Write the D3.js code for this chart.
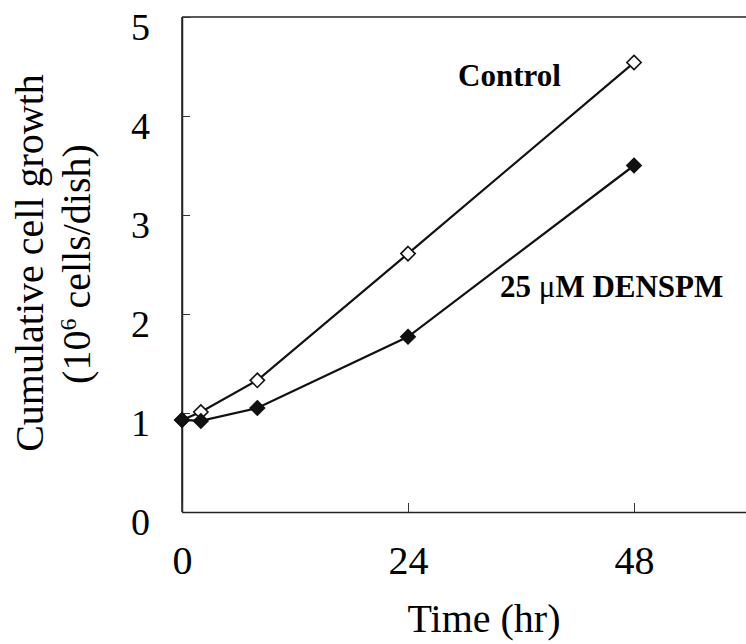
<!DOCTYPE html>
<html>
<head>
<meta charset="utf-8">
<script src="https://cdn.jsdelivr.net/npm/d3@7"></script>
<style>
  html, body { margin: 0; padding: 0; background: #fff; }
  svg { display: block; }
</style>
</head>
<body>
<svg id="chart" width="746" height="644"></svg>
<script>
// Cumulative cell growth over time, control vs. 25 µM DENSPM
const hours = [0, 2, 8, 24, 48];
const control = [0.93, 1.01, 1.33, 2.61, 4.54];
const densp = [0.93, 0.92, 1.05, 1.77, 3.50];
const xTicks = [0, 24, 48];
const yTicks = [0, 1, 2, 3, 4, 5];

const svg = d3.select("#chart");
const font = "'Liberation Serif', 'Times New Roman', serif";

const x = d3.scaleLinear().domain([0, 60]).range([182, 747]);
const y = d3.scaleLinear().domain([0, 5]).range([512, 17]);

// frame: left, top and bottom edges of the plot area
const frame = svg.append("g").attr("stroke", "#222").attr("stroke-width", 1.5).attr("fill", "none");
frame.append("line").attr("x1", x(0)).attr("x2", x(0)).attr("y1", y(5)).attr("y2", y(0));
frame.append("line").attr("x1", x(0)).attr("x2", x(60)).attr("y1", y(5)).attr("y2", y(5));

// y axis, ticks pointing inward
const yAxis = svg.append("g")
  .attr("transform", `translate(${x(0)},0)`)
  .call(d3.axisLeft(y).tickValues(yTicks).tickFormat(d3.format("d"))
    .tickSizeInner(-8).tickSizeOuter(0).tickPadding(32));
yAxis.select(".domain").attr("stroke", "#222").attr("stroke-width", 1.5);
yAxis.selectAll(".tick line").attr("stroke", "#333").attr("stroke-width", 1);
yAxis.selectAll(".tick text")
  .attr("font-family", font).attr("font-size", 38).attr("fill", "#000")
  .attr("dy", "0.6em");

// x axis, ticks pointing inward
const xAxis = svg.append("g")
  .attr("transform", `translate(0,${y(0)})`)
  .call(d3.axisBottom(x).tickValues(xTicks).tickFormat(d3.format("d"))
    .tickSizeInner(-9).tickSizeOuter(0).tickPadding(34));
xAxis.select(".domain").attr("stroke", "#222").attr("stroke-width", 1.5);
xAxis.selectAll(".tick line").attr("stroke", "#333").attr("stroke-width", 1);
xAxis.selectAll(".tick text")
  .attr("font-family", font).attr("font-size", 40).attr("fill", "#000");

// axis titles
svg.append("text")
  .attr("x", 484).attr("y", 632)
  .attr("text-anchor", "middle")
  .attr("font-family", font).attr("font-size", 40)
  .text("Time (hr)");

const yTitle = svg.append("g").attr("font-family", font).attr("font-size", 40).attr("text-anchor", "middle");
yTitle.append("text")
  .attr("transform", "translate(43,263) rotate(-90)")
  .text("Cumulative cell growth");
const t2 = yTitle.append("text")
  .attr("transform", "translate(90,264) rotate(-90)");
t2.append("tspan").text("(10");
t2.append("tspan").attr("font-size", 24).attr("dy", -14).text("6");
t2.append("tspan").attr("dy", 14).text(" cells/dish)");

// series lines
const line = d3.line().x((d, i) => x(hours[i])).y(d => y(d));
svg.append("path").datum(control).attr("d", line)
  .attr("fill", "none").attr("stroke", "#111").attr("stroke-width", 2.2);
svg.append("path").datum(densp).attr("d", line)
  .attr("fill", "none").attr("stroke", "#111").attr("stroke-width", 2.2);

// diamond markers
const diamond = d3.symbol().type(d3.symbolDiamond2).size(130);
svg.append("g").selectAll("path").data(control).join("path")
  .attr("d", diamond)
  .attr("transform", (d, i) => `translate(${x(hours[i])},${y(d)}) rotate(0)`)
  .attr("fill", "#fff").attr("stroke", "#111").attr("stroke-width", 1.6);
svg.append("g").selectAll("path").data(densp).join("path")
  .attr("d", diamond)
  .attr("transform", (d, i) => `translate(${x(hours[i])},${y(d)})`)
  .attr("fill", "#111").attr("stroke", "#111").attr("stroke-width", 1.6);

// series labels
svg.append("text")
  .attr("x", 458).attr("y", 86)
  .attr("font-family", font).attr("font-size", 31).attr("font-weight", "bold")
  .text("Control");
const lab = svg.append("text")
  .attr("x", 500).attr("y", 297)
  .attr("font-family", font).attr("font-size", 31).attr("font-weight", "bold");
lab.append("tspan").text("25 ");
lab.append("tspan").attr("font-weight", "normal").text("μ");
lab.append("tspan").text("M DENSPM");
</script>
</body>
</html>
